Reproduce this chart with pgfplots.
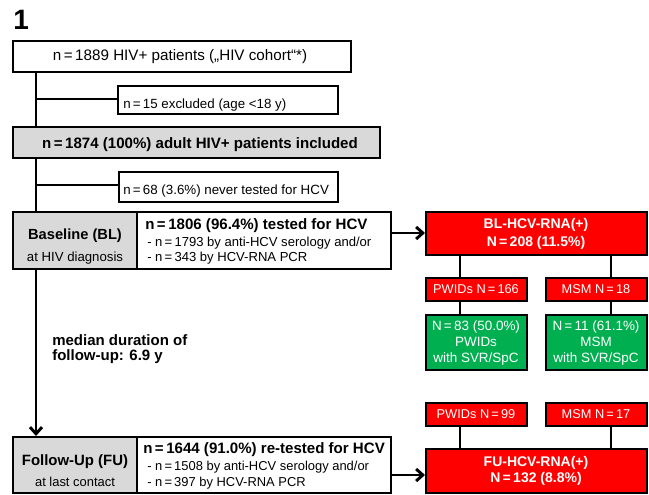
\documentclass[border=0pt]{standalone}
\usepackage{pgfplots}
\pgfplotsset{compat=1.18}
\usetikzlibrary{arrows.meta}
\usepackage{fontspec}
\setmainfont{Liberation Sans}
\definecolor{boxred}{RGB}{255,0,0}
\definecolor{boxgreen}{RGB}{0,176,80}
\definecolor{boxgray}{RGB}{217,217,217}
\newcommand{\fs}[1]{\fontsize{#1}{#1}\selectfont}
\newcommand{\bx}[5]{\addplot[draw=black, line width=1.2pt, fill=#5, mark=none] coordinates {(#1,#2) (#3,#2) (#3,#4) (#1,#4)} -- cycle;}
\begin{document}
\begin{tikzpicture}
\begin{axis}[
  scale only axis, width=486.75pt, height=370.5pt,
  xmin=0, xmax=649, ymin=0, ymax=494, y dir=reverse,
  axis lines=none, clip=false,
]
\addplot[draw=none, mark=none] coordinates {(0,0) (649,494)};
% connecting lines
\addplot[black, line width=1.2pt, mark=none] coordinates {(36,72) (36,127)};
\addplot[black, line width=1.2pt, mark=none] coordinates {(36,99) (118,99)};
\addplot[black, line width=1.2pt, mark=none] coordinates {(36,158) (36,212)};
\addplot[black, line width=1.2pt, mark=none] coordinates {(36,185) (119,185)};
\addplot[black, line width=2.2pt, mark=none, -{Straight Barb[length=5pt,width=9pt]}] coordinates {(36,269) (36,436)};
\addplot[black, line width=2.2pt, mark=none, -{Straight Barb[length=5pt,width=9pt]}] coordinates {(391,233) (425,233)};
\addplot[black, line width=2.2pt, mark=none, -{Straight Barb[length=5pt,width=9pt]}] coordinates {(391,475) (425,475)};
\addplot[black, line width=1.2pt, mark=none] coordinates {(460,255) (460,278)};
\addplot[black, line width=1.2pt, mark=none] coordinates {(611,255) (611,278)};
\addplot[black, line width=1.2pt, mark=none] coordinates {(460,301) (460,315)};
\addplot[black, line width=1.2pt, mark=none] coordinates {(611,301) (611,315)};
\addplot[black, line width=1.2pt, mark=none] coordinates {(460,426) (460,449)};
\addplot[black, line width=1.2pt, mark=none] coordinates {(611,426) (611,449)};
% boxes
\bx{13}{41}{351}{72}{white}
\bx{118}{86}{338}{114}{white}
\bx{13}{127}{380}{158}{boxgray}
\bx{119}{172}{338}{202}{white}
\bx{13}{212}{137}{269}{boxgray}
\bx{137}{212}{391}{269}{white}
\bx{426}{212}{647}{255}{boxred}
\bx{426}{278}{527}{301}{boxred}
\bx{546}{278}{647}{301}{boxred}
\bx{426}{315}{527}{370}{boxgreen}
\bx{546}{315}{647}{370}{boxgreen}
\bx{13}{437}{137}{493}{boxgray}
\bx{137}{437}{391}{493}{white}
\bx{426}{403}{527}{426}{boxred}
\bx{546}{403}{647}{426}{boxred}
\bx{426}{449}{647}{493}{boxred}
% texts
\node[anchor=base west, inner sep=0pt, font=\fs{21}\bfseries] at (axis cs:13,30) {1};
\node[font=\fs{11.4}] at (axis cs:180,57) {n\,=\,1889 HIV+ patients („HIV cohort“*)};
\node[anchor=west, inner sep=0pt, font=\fs{10}] at (axis cs:123,105) {n\,=\,15 excluded (age <18 y)};
\node[font=\fs{11.3}\bfseries] at (axis cs:200,145) {n\,=\,1874 (100\%) adult HIV+ patients included};
\node[anchor=west, inner sep=0pt, font=\fs{10}] at (axis cs:123,191) {n\,=\,68 (3.6\%) never tested for HCV};
\node[font=\fs{11}\bfseries] at (axis cs:75,236) {Baseline (BL)};
\node[font=\fs{9.9}] at (axis cs:75,258) {at HIV diagnosis};
\node[anchor=west, inner sep=0pt, font=\fs{11.3}\bfseries] at (axis cs:145,226) {n\,=\,1806 (96.4\%) tested for HCV};
\node[anchor=west, inner sep=0pt, font=\fs{9.8}] at (axis cs:147,243) {- n\,=\,1793 by anti-HCV serology and/or};
\node[anchor=west, inner sep=0pt, font=\fs{9.8}] at (axis cs:147,258) {- n\,=\,343 by HCV-RNA PCR};
\node[white, font=\fs{10.5}\bfseries] at (axis cs:536,225) {BL-HCV-RNA(+)};
\node[white, font=\fs{10.5}\bfseries] at (axis cs:536,243) {N\,=\,208 (11.5\%)};
\node[white, font=\fs{9.6}] at (axis cs:476,289.5) {PWIDs N\,=\,166};
\node[white, font=\fs{9.6}] at (axis cs:596,289.5) {MSM N\,=\,18};
\node[white, font=\fs{10.1}, align=center] at (axis cs:476,343) {N\,=\,83 (50.0\%)\\[2pt]PWIDs\\[2pt]with SVR/SpC};
\node[white, font=\fs{10.1}, align=center] at (axis cs:596,343) {N\,=\,11 (61.1\%)\\[2pt]MSM\\[2pt]with SVR/SpC};
\node[anchor=west, inner sep=0pt, font=\fs{11.25}\bfseries] at (axis cs:52,340) {median duration of};
\node[anchor=west, inner sep=0pt, font=\fs{11.25}\bfseries] at (axis cs:52,357) {follow-up: 6.9 y};
\node[font=\fs{11.2}\bfseries] at (axis cs:75,462) {Follow-Up (FU)};
\node[font=\fs{9.7}] at (axis cs:75,482) {at last contact};
\node[anchor=west, inner sep=0pt, font=\fs{11.3}\bfseries] at (axis cs:143,450) {n\,=\,1644 (91.0\%) re-tested for HCV};
\node[anchor=west, inner sep=0pt, font=\fs{9.7}] at (axis cs:147,467) {- n\,=\,1508 by anti-HCV serology and/or};
\node[anchor=west, inner sep=0pt, font=\fs{9.7}] at (axis cs:147,483) {- n\,=\,397 by HCV-RNA PCR};
\node[white, font=\fs{9.6}] at (axis cs:476,414.5) {PWIDs N\,=\,99};
\node[white, font=\fs{9.6}] at (axis cs:596,414.5) {MSM N\,=\,17};
\node[white, font=\fs{10.5}\bfseries] at (axis cs:536,463) {FU-HCV-RNA(+)};
\node[white, font=\fs{10.5}\bfseries] at (axis cs:536,479) {N\,=\,132 (8.8\%)};
\end{axis}
\end{tikzpicture}
\end{document}
